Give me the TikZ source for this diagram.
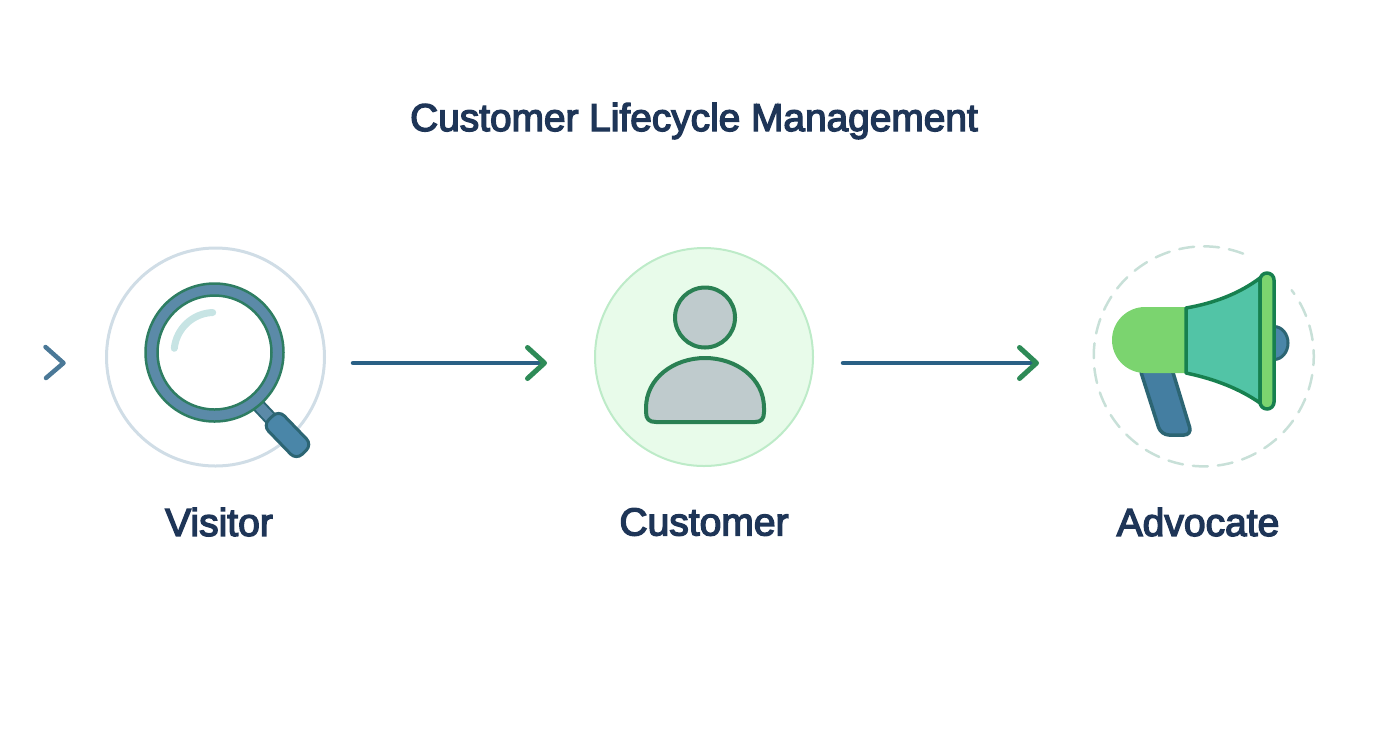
\documentclass[tikz,border=0pt]{standalone}
\usepackage{fontspec}
\setmainfont{Liberation Sans}[FakeBold=3.5]
\usepackage{xcolor}
\usetikzlibrary{arrows.meta}
\definecolor{navytext}{HTML}{1E3557}
\definecolor{linkblue}{HTML}{2A6085}
\definecolor{linkgreen}{HTML}{2E8B57}
\definecolor{ringblue}{HTML}{5B8AA8}
\definecolor{ringgreen}{HTML}{2E7D62}
\definecolor{handleblue}{HTML}{4A86A8}
\definecolor{handledark}{HTML}{2C6573}
\definecolor{shine}{HTML}{C7E4E4}
\definecolor{visitorline}{HTML}{D0DDE6}
\definecolor{customerfill}{HTML}{E8FBEA}
\definecolor{customerline}{HTML}{BDEBC8}
\definecolor{personfill}{HTML}{BFCBCD}
\definecolor{persondark}{HTML}{2A8053}
\definecolor{dashgreen}{HTML}{C8E0D8}
\definecolor{bodygreen}{HTML}{7BD46F}
\definecolor{horngreen}{HTML}{52C4A6}
\definecolor{horndark}{HTML}{17804F}
\tikzset{
    heading/.style={font=\fontsize{11.05}{13}\selectfont, text=navytext},
    stagelabel/.style={font=\fontsize{11.1}{13}\selectfont, text=navytext},
    stagecircle/.style={circle, minimum size=2.18cm, inner sep=0pt},
    linkarrow/.style={line width=0.045cm, linkblue, line cap=round,
        -{Straight Barb[round, color=linkgreen, length=0.17cm, width=0.31cm, line width=0.05cm]}},
    hornpart/.style={line width=0.035cm, draw=horndark, line join=round}
}
\begin{document}
\begin{tikzpicture}
\useasboundingbox (0,0) rectangle (13.92,7.52);

% Title
\node[heading] (title) at (6.94,6.31) {Customer Lifecycle Management};

% Stage circles
\node[stagecircle, draw=visitorline, line width=0.03cm] (visitor) at (2.155,3.95) {};
\node[stagecircle, draw=customerline, fill=customerfill, line width=0.02cm] (customer) at (7.04,3.95) {};
\node[stagecircle, minimum size=2.2cm] (advocate) at (12.035,3.95) {};
\draw[dashgreen, line width=0.025cm, dash pattern=on 0.15cm off 0.10cm, line cap=round]
    (advocate.69) arc (69:397:1.10);

% Stage labels
\node[stagelabel] (visitorlabel) at (2.19,2.30) {Visitor};
\node[stagelabel] (customerlabel) at (7.04,2.30) {Customer};
\node[stagelabel] (advocatelabel) at (11.98,2.30) {Advocate};

% Entry chevron
\coordinate (entrytop) at (0.455,4.05);
\coordinate (entrytip) at (0.635,3.89);
\coordinate (entrybottom) at (0.46,3.74);
\draw[line width=0.045cm, linkblue!85!white, line cap=round, line join=round] (entrytop) -- (entrytip) -- (entrybottom);

% Arrows between stages
\coordinate (visitorout) at (3.53,3.89);
\coordinate (customerin) at (5.47,3.89);
\coordinate (customerout) at (8.43,3.89);
\coordinate (advocatein) at (10.39,3.89);
\draw[linkarrow] (visitorout) -- (customerin);
\draw[linkarrow] (customerout) -- (advocatein);

% Magnifying glass
\draw[handledark, line width=0.14cm] (2.58,3.47) -- (2.74,3.30);
\draw[ringblue, line width=0.10cm] (2.58,3.47) -- (2.74,3.30);
\node[rectangle, rotate=-46, minimum width=0.48cm, minimum height=0.22cm, inner sep=0pt,
    rounded corners=0.08cm, fill=handleblue, draw=handledark, line width=0.03cm] (handle) at (2.875,3.17) {};
\draw[ringgreen, line width=0.025cm, fill=ringblue, even odd rule] (2.145,3.995) circle (0.69) (2.145,3.995) circle (0.57);
\draw[shine, line width=0.07cm, line cap=round] (2.127,4.395) arc (92:174:0.40);

% Person
\draw[persondark, fill=personfill, line width=0.04cm] (7.05,4.345) circle (0.30);
\draw[persondark, fill=personfill, line width=0.04cm, line join=round]
    (6.56,3.30) -- (7.55,3.30) .. controls (7.61,3.30) and (7.64,3.33) .. (7.64,3.40)
    -- (7.64,3.44) .. controls (7.64,3.74) and (7.36,3.94) .. (7.05,3.94)
    .. controls (6.74,3.94) and (6.46,3.74) .. (6.46,3.44)
    -- (6.46,3.40) .. controls (6.46,3.33) and (6.49,3.30) .. (6.56,3.30) -- cycle;

% Megaphone
\draw[handledark, fill=handleblue!80!linkblue, line width=0.035cm, rounded corners=0.08cm]
    (11.39,3.86) -- (11.61,3.17) -- (11.92,3.17) -- (11.71,3.86) -- cycle;
\fill[bodygreen] (11.86,4.45) -- (11.45,4.45) arc (90:270:0.33) -- (11.86,3.79) -- cycle;
\draw[handledark, fill=handleblue, line width=0.03cm] (12.74,4.255) arc (90:-90:0.14 and 0.165) -- cycle;
\draw[hornpart, fill=horngreen] (11.86,4.44) .. controls (12.15,4.49) and (12.40,4.59) .. (12.60,4.74)
    -- (12.60,3.49) .. controls (12.40,3.63) and (12.15,3.73) .. (11.86,3.79) -- cycle;
\draw[hornpart, fill=bodygreen, rounded corners=0.07cm] (12.60,3.43) rectangle (12.74,4.79);
\end{tikzpicture}
\end{document}
